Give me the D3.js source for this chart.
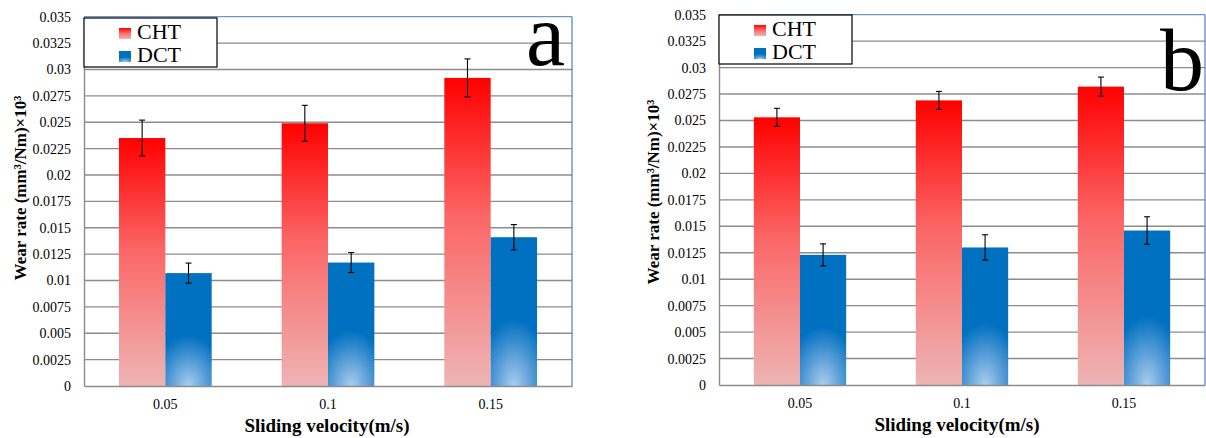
<!DOCTYPE html>
<html>
<head>
<meta charset="utf-8">
<script src="https://cdn.jsdelivr.net/npm/d3@7"></script>
<style>
  html, body { margin: 0; padding: 0; background: #fff; }
  svg text { font-family: 'Liberation Serif', 'Times New Roman', 'DejaVu Serif', serif; }
</style>
</head>
<body>
<svg width="1206" height="438"></svg>
<script>

var categories = ['0.05', '0.1', '0.15'];
var seriesNames = ['CHT', 'DCT'];
var yTicks = [0, 0.0025, 0.005, 0.0075, 0.01, 0.0125, 0.015, 0.0175, 0.02, 0.0225, 0.025, 0.0275, 0.03, 0.0325, 0.035];
var yTickLabels = ['0', '0.0025', '0.005', '0.0075', '0.01', '0.0125', '0.015', '0.0175', '0.02', '0.0225', '0.025', '0.0275', '0.03', '0.0325', '0.035'];

// panel a
var chtA = [0.0235, 0.0249, 0.0292];
var dctA = [0.0107, 0.0117, 0.0141];
var chtErrA = [0.0017, 0.0017, 0.0018];
var dctErrA = [0.00095, 0.00095, 0.0012];

// panel b
var chtB = [0.0253, 0.0269, 0.0282];
var dctB = [0.0123, 0.0130, 0.0146];
var chtErrB = [0.00085, 0.00085, 0.0009];
var dctErrB = [0.00104, 0.0012, 0.0013];

var svg = d3.select('svg');
var defs = svg.append('defs');

// red bars fade from red to pale pink
var red = defs.append('linearGradient')
  .attr('id', 'chtGrad')
  .attr('x1', 0).attr('y1', 0).attr('x2', 0).attr('y2', 1);
red.append('stop').attr('offset', 0).attr('stop-color', '#ff0000');
red.append('stop').attr('offset', 0.45).attr('stop-color', '#fb6666');
red.append('stop').attr('offset', 1).attr('stop-color', '#eeb4b4');

// blue bars, lighter glow at the bottom
var blue = defs.append('radialGradient')
  .attr('id', 'dctGrad')
  .attr('cx', 0.5).attr('cy', 1).attr('r', 1)
  .attr('gradientTransform', 'translate(0.5,1) scale(0.8,0.45) translate(-0.5,-1)');
blue.append('stop').attr('offset', 0).attr('stop-color', '#a9cfee');
blue.append('stop').attr('offset', 0.45).attr('stop-color', '#5fa1d9');
blue.append('stop').attr('offset', 1).attr('stop-color', '#0070c0');

var fills = { CHT: 'url(#chtGrad)', DCT: 'url(#dctGrad)' };

function drawPanel(p) {
  var g = svg.append('g');

  var y = d3.scaleLinear().domain([0, 0.035]).range([p.bottom, p.top]);
  var x = d3.scaleBand().domain(categories)
    .range([p.left, p.right])
    .paddingInner(0.43).paddingOuter(0.215);
  var xs = d3.scaleBand().domain(seriesNames).range([0, x.bandwidth()]);

  // gridlines
  g.append('g').selectAll('line')
    .data(yTicks.slice(1, -1))
    .enter().append('line')
      .attr('x1', p.left).attr('x2', p.right)
      .attr('y1', function(d){ return y(d) })
      .attr('y2', function(d){ return y(d) })
      .attr('stroke', '#8c8c8c').attr('stroke-width', 1.4);

  // plot outline: top and right blue, left and bottom grey
  g.append('line').attr('x1', p.left).attr('x2', p.right)
    .attr('y1', y(0.035)).attr('y2', y(0.035))
    .attr('stroke', '#6f95cc').attr('stroke-width', 1.2);
  g.append('line').attr('x1', p.right).attr('x2', p.right)
    .attr('y1', y(0.035)).attr('y2', y(0))
    .attr('stroke', '#4f7fc4').attr('stroke-width', 1.2);

  var rows = categories.map(function(c, i){
    return { cat: c, CHT: p.cht[i], DCT: p.dct[i], CHTerr: p.chtErr[i], DCTerr: p.dctErr[i] };
  });

  var groups = g.selectAll('g.cat')
    .data(rows)
    .enter().append('g')
      .attr('class', 'cat')
      .attr('transform', function(d){ return 'translate(' + x(d.cat) + ',0)' });

  var bars = groups.selectAll('g.bar')
    .data(function(d){
      return seriesNames.map(function(s){ return { s: s, v: d[s], e: d[s + 'err'] } });
    })
    .enter().append('g').attr('class', 'bar');

  bars.append('rect')
    .attr('x', function(d){ return xs(d.s) })
    .attr('width', xs.bandwidth())
    .attr('y', function(d){ return y(d.v) })
    .attr('height', function(d){ return y(0) - y(d.v) })
    .attr('fill', function(d){ return fills[d.s] });

  // error bars
  var cap = 3;
  bars.append('line')
    .attr('x1', function(d){ return xs(d.s) + xs.bandwidth() / 2 })
    .attr('x2', function(d){ return xs(d.s) + xs.bandwidth() / 2 })
    .attr('y1', function(d){ return y(d.v + d.e) })
    .attr('y2', function(d){ return y(d.v - d.e) });
  bars.append('line')
    .attr('x1', function(d){ return xs(d.s) + xs.bandwidth() / 2 - cap })
    .attr('x2', function(d){ return xs(d.s) + xs.bandwidth() / 2 + cap })
    .attr('y1', function(d){ return y(d.v + d.e) })
    .attr('y2', function(d){ return y(d.v + d.e) });
  bars.append('line')
    .attr('x1', function(d){ return xs(d.s) + xs.bandwidth() / 2 - cap })
    .attr('x2', function(d){ return xs(d.s) + xs.bandwidth() / 2 + cap })
    .attr('y1', function(d){ return y(d.v - d.e) })
    .attr('y2', function(d){ return y(d.v - d.e) });
  bars.selectAll('line').attr('stroke', '#000').attr('stroke-width', 1.1);

  // axes
  var yAxis = g.append('g')
    .attr('transform', 'translate(' + p.left + ',0)')
    .call(d3.axisLeft(y).tickValues(yTicks).tickSize(0).tickPadding(13)
      .tickFormat(function(d, i){ return yTickLabels[i] }));
  yAxis.select('.domain').attr('stroke', '#8c8c8c').attr('stroke-width', 1.4);

  var xAxis = g.append('g')
    .attr('transform', 'translate(0,' + p.bottom + ')')
    .call(d3.axisBottom(x).tickSize(0).tickPadding(13));
  xAxis.select('.domain').attr('stroke', '#8c8c8c').attr('stroke-width', 1.4);

  yAxis.attr('font-family', null).attr('font-size', 14);
  xAxis.attr('font-family', null).attr('font-size', 14);
  g.selectAll('.tick text').attr('fill', '#000');

  // axis titles
  g.append('text')
    .attr('transform', 'translate(' + p.yTitleX + ',' + p.yTitleY + ') rotate(-90)')
    .attr('text-anchor', 'middle')
    .attr('font-weight', 'bold')
    .attr('font-size', 17)
    .text('Wear rate (mm\u00b3/Nm)\u00d710\u00b3');

  g.append('text')
    .attr('x', p.xTitleX).attr('y', p.bottom + 46)
    .attr('text-anchor', 'middle')
    .attr('font-weight', 'bold')
    .attr('font-size', 19)
    .text('Sliding velocity(m/s)');

  // legend
  var lg = g.append('g').attr('transform', 'translate(' + p.left + ',' + p.legTop + ')');
  lg.append('rect')
    .attr('width', 133).attr('height', 49)
    .attr('fill', '#fff').attr('stroke', '#000').attr('stroke-width', 1.2);
  var items = lg.selectAll('g.item')
    .data(seriesNames)
    .enter().append('g')
      .attr('transform', function(d, i){ return 'translate(35,' + (10 + i * 23) + ')' });
  items.append('rect')
    .attr('width', 12).attr('height', 11)
    .attr('fill', function(d){ return fills[d] });
  items.append('text')
    .attr('x', 18).attr('y', 11)
    .attr('font-size', 22)
    .text(function(d){ return d });

  // panel letter
  g.append('text')
    .attr('x', p.letterX).attr('y', p.letterY)
    .attr('text-anchor', 'end')
    .attr('font-size', 88)
    .text(p.letter);
}

drawPanel({
  left: 84, right: 572, top: 16.7, bottom: 386,
  cht: chtA, dct: dctA, chtErr: chtErrA, dctErr: dctErrA,
  yTitleX: 26, yTitleY: 188, xTitleX: 327, legTop: 18,
  letter: 'a', letterX: 565, letterY: 65
});

drawPanel({
  left: 719, right: 1205, top: 14.7, bottom: 385,
  cht: chtB, dct: dctB, chtErr: chtErrB, dctErr: dctErrB,
  yTitleX: 659, yTitleY: 192, xTitleX: 957, legTop: 15,
  letter: 'b', letterX: 1204, letterY: 90
});

</script>
</body>
</html>
